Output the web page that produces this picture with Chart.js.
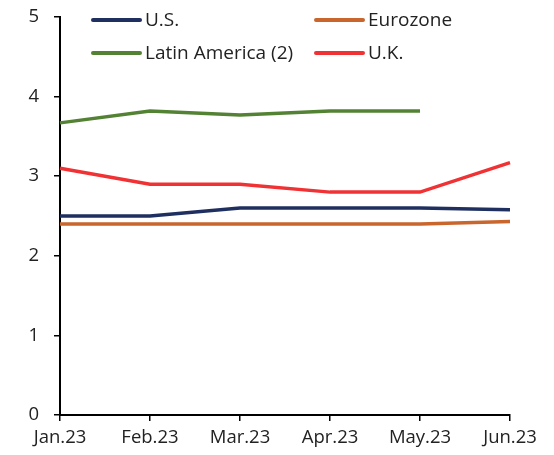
<!DOCTYPE html>
<html>
<head>
<meta charset="utf-8">
<script src="https://cdn.jsdelivr.net/npm/chart.js@4/dist/chart.umd.min.js"></script>
<style>
  html, body { margin: 0; padding: 0; background: #fff; }
  #wrap { width: 554px; height: 455px; position: relative; }
</style>
</head>
<body>
<div id="wrap"><canvas id="rateChart" width="554" height="455"></canvas></div>
<script>
// Monthly rates, Jan to Jun 2023
const months = ['Jan.23', 'Feb.23', 'Mar.23', 'Apr.23', 'May.23', 'Jun.23'];
const usRates = [2.5, 2.5, 2.6, 2.6, 2.6, 2.58];
const eurozoneRates = [2.4, 2.4, 2.4, 2.4, 2.4, 2.43];
const latamRates = [3.67, 3.82, 3.77, 3.82, 3.82, null];
const ukRates = [3.1, 2.9, 2.9, 2.8, 2.8, 3.17];
const yTicks = [0, 1, 2, 3, 4, 5];

const fontFamily = '"Open Sans", "Noto Sans", sans-serif';

// Two-column legend drawn inside the plot, top left
const legendPlugin = {
    id: 'cornerLegend',
    afterDraw(chart) {
        const ctx = chart.ctx;
        const cols = [93, 316];
        const rows = [20, 53];
        ctx.save();
        ctx.font = '19px ' + fontFamily;
        ctx.textBaseline = 'middle';
        chart.data.datasets.forEach((ds, i) => {
            const x = cols[i % 2];
            const y = rows[Math.floor(i / 2)];
            ctx.strokeStyle = ds.borderColor;
            ctx.lineWidth = 4;
            ctx.lineCap = 'round';
            ctx.beginPath();
            ctx.moveTo(x, y);
            ctx.lineTo(x + 47, y);
            ctx.stroke();
            ctx.fillStyle = '#222';
            ctx.fillText(ds.label, x + 52, y + 1);
        });
        ctx.restore();
    }
};

function series(label, data, color) {
    return {
        label: label,
        data: data,
        borderColor: color,
        backgroundColor: color,
        borderWidth: 3.5,
        pointRadius: 0,
        tension: 0,
        spanGaps: false
    };
}

new Chart(document.getElementById('rateChart'), {
    type: 'line',
    data: {
        labels: months,
        datasets: [
            series('U.S.', usRates, '#1f3060'),
            series('Eurozone', eurozoneRates, '#c8662e'),
            series('Latin America (2)', latamRates, '#548235'),
            series('U.K.', ukRates, '#f03234')
        ]
    },
    options: {
        responsive: false,
        animation: false,
        layout: { padding: { top: 17, right: 44, left: 0, bottom: 0 } },
        plugins: {
            legend: { display: false },
            tooltip: { enabled: false }
        },
        scales: {
            x: {
                offset: false,
                grid: { drawOnChartArea: false, drawTicks: true, tickLength: 6, color: '#000', lineWidth: 1.5 },
                border: { color: '#000', width: 2 },
                ticks: { color: '#222', font: { family: fontFamily, size: 18.5 }, padding: 6, maxRotation: 0, autoSkip: false },
                afterFit(scale) { scale.height = 40; scale.paddingLeft = 0; scale.paddingRight = 0; }
            },
            y: {
                min: 0,
                max: 5,
                afterBuildTicks(scale) { scale.ticks = yTicks.map(v => ({ value: v })); },
                grid: { drawOnChartArea: false, drawTicks: true, tickLength: 6, color: '#000', lineWidth: 1.5 },
                border: { color: '#000', width: 2 },
                ticks: { color: '#222', font: { family: fontFamily, size: 18.5 }, padding: 15 },
                afterFit(scale) { scale.width = 60; scale.paddingTop = 0; scale.paddingBottom = 0; }
            }
        }
    },
    plugins: [legendPlugin]
});
</script>
</body>
</html>
